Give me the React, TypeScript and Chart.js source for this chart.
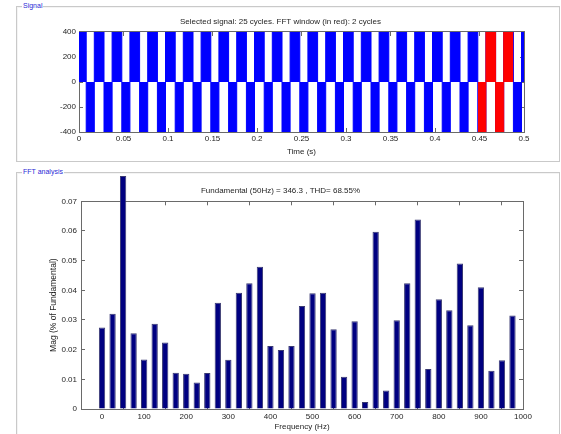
import React, { useEffect, useRef } from "react";
import { Chart, registerables } from "chart.js";

Chart.register(...registerables);

// ---------- Signal (time domain) ----------
// switching instants (s) and the level that holds from each instant to the next
const signalTimes = [
  0, 0.0081, 0.0172, 0.0281, 0.0372, 0.0481, 0.0572, 0.0681, 0.0772, 0.0881, 0.0972,
  0.1081, 0.1172, 0.1281, 0.1372, 0.1481, 0.1572, 0.1681, 0.1772, 0.1881, 0.1972,
  0.2081, 0.2172, 0.2281, 0.2372, 0.2481, 0.2572, 0.2681, 0.2772, 0.2881, 0.2972,
  0.3081, 0.3172, 0.3281, 0.3372, 0.3481, 0.3572, 0.3681, 0.3772, 0.3881, 0.3972,
  0.4081, 0.4172, 0.4281, 0.4372, 0.4481, 0.4572, 0.4681, 0.4772, 0.4881, 0.4972, 0.5,
];
const signalValues = [
  400, -400, 400, -400, 400, -400, 400, -400, 400, -400, 400,
  -400, 400, -400, 400, -400, 400, -400, 400, -400, 400,
  -400, 400, -400, 400, -400, 400, -400, 400, -400, 400,
  -400, 400, -400, 400, -400, 400, -400, 400, -400, 400,
  -400, 400, -400, 400, -400, 400, -400, 400, -400, 400, 400,
];
const fftWindowStart = 0.4481;
const fftWindowEnd = 0.4881;

const timeTicks = [0, 0.05, 0.1, 0.15, 0.2, 0.25, 0.3, 0.35, 0.4, 0.45, 0.5];
const timeTickLabels = ["0", "0.05", "0.1", "0.15", "0.2", "0.25", "0.3", "0.35", "0.4", "0.45", "0.5"];
const signalTicks = [-400, -200, 0, 200, 400];
const signalTickLabels = ["-400", "-200", "0", "200", "400"];

// ---------- FFT analysis ----------
const fftFreqs = [
  0, 25, 50, 75, 100, 125, 150, 175, 200, 225, 250, 275, 300, 325, 350, 375, 400, 425, 450, 475,
  500, 525, 550, 575, 600, 625, 650, 675, 700, 725, 750, 775, 800, 825, 850, 875, 900, 925, 950, 975,
];
const fftMags = [
  0.0275, 0.0321, 0.0785, 0.0255, 0.0167, 0.0287, 0.0224, 0.0122, 0.0119, 0.0089,
  0.0121, 0.0358, 0.0166, 0.0392, 0.0424, 0.0479, 0.0212, 0.0199, 0.0212, 0.0347,
  0.039, 0.0392, 0.0269, 0.0109, 0.0296, 0.0024, 0.0597, 0.0062, 0.0299, 0.0424,
  0.0639, 0.0135, 0.037, 0.0333, 0.049, 0.0282, 0.041, 0.0129, 0.0164, 0.0315,
];
const freqTicks = [0, 100, 200, 300, 400, 500, 600, 700, 800, 900, 1000];
const freqTickLabels = ["0", "100", "200", "300", "400", "500", "600", "700", "800", "900", "1000"];
const magTicks = [0, 0.01, 0.02, 0.03, 0.04, 0.05, 0.06, 0.07];
const magTickLabels = ["0", "0.01", "0.02", "0.03", "0.04", "0.05", "0.06", "0.07"];

const signalTitle = "Selected signal: 25 cycles. FFT window (in red): 2 cycles";
const fftTitle = "Fundamental (50Hz) = 346.3 , THD= 68.55%";

const FAMILY = "'Liberation Sans', Arial, sans-serif";
const TEXT = "#1e1e1e";
const AXIS = "#6a6a6a";
const W = 561;
const H = 434;

function setTicks(values: number[]) {
  return (axis: any) => {
    axis.ticks = values.map((v) => ({ value: v }));
  };
}
function labelFor(values: number[], labels: string[]) {
  return (v: any) => {
    const i = values.findIndex((t) => Math.abs(t - Number(v)) < 1e-9);
    return i >= 0 ? labels[i] : "";
  };
}

function axisCommon(values: number[], min: number, max: number) {
  return {
    type: "linear" as const,
    min,
    max,
    offset: false,
    afterBuildTicks: setTicks(values),
    grid: { drawOnChartArea: false, drawTicks: true, tickLength: -4, color: AXIS, lineWidth: 1 },
    border: { display: true, color: AXIS, width: 1 },
  };
}

const font = { family: FAMILY, size: 8, weight: "normal" as const };
const yTitleFont = { family: FAMILY, size: 8.5, weight: "normal" as const };

function SignalChart() {
  const ref = useRef<HTMLCanvasElement>(null);
  useEffect(() => {
    const pts = signalTimes.map((t, i) => ({ x: t, y: signalValues[i] }));
    const red: { x: number; y: number }[] = [];
    for (let i = 0; i < signalTimes.length; i++) {
      if (signalTimes[i] >= fftWindowStart - 1e-9 && signalTimes[i] < fftWindowEnd - 1e-9) red.push(pts[i]);
    }
    red.push({ x: fftWindowEnd, y: red[red.length - 1].y });
    const chart = new Chart(ref.current!, {
      type: "line",
      data: {
        datasets: [
          {
            data: red,
            borderColor: "#ff0000",
            backgroundColor: "#ff0000",
            borderWidth: 1,
            pointRadius: 0,
            stepped: true,
            fill: "origin",
            order: 0,
          },
          {
            data: pts,
            borderColor: "#0000ff",
            backgroundColor: "#0000ff",
            borderWidth: 1,
            pointRadius: 0,
            stepped: true,
            fill: "origin",
            order: 1,
          },
        ],
      },
      options: {
        animation: false,
        responsive: false,
        events: [],
        layout: { padding: { left: 0, right: 0, top: 0, bottom: H - 160 } },
        plugins: {
          legend: { display: false },
          tooltip: { enabled: false },
          title: { display: true, text: signalTitle, font, color: TEXT, padding: { top: 17.2, bottom: 0 } },
        },
        scales: {
          x: {
            ...axisCommon(timeTicks, 0, 0.5),
            position: "bottom",
            ticks: { callback: labelFor(timeTicks, timeTickLabels), font, color: TEXT, padding: 6.2, maxRotation: 0, autoSkip: false },
            title: { display: true, text: "Time (s)", font, color: TEXT, padding: { top: 0, bottom: 3.2 } },
            afterFit: (s: any) => { s.height = 28; },
          },
          x2: {
            ...axisCommon(timeTicks, 0, 0.5),
            axis: "x",
            position: "top",
            ticks: { display: false },
            afterFit: (s: any) => { s.height = 5.2; },
          },
          y: {
            ...axisCommon(signalTicks, -400, 400),
            position: "left",
            ticks: { callback: labelFor(signalTicks, signalTickLabels), font, color: TEXT, padding: 7, autoSkip: false },
            afterFit: (s: any) => { s.width = 79; },
          },
          y2: {
            ...axisCommon(signalTicks, -400, 400),
            axis: "y",
            position: "right",
            ticks: { display: false },
            afterFit: (s: any) => { s.width = W - 524; },
          },
        },
      } as any,
    });
    return () => chart.destroy();
  }, []);
  return <canvas ref={ref} width={W} height={H} style={{ position: "absolute", left: 0, top: 0, width: W, height: H }} />;
}

function FftChart() {
  const ref = useRef<HTMLCanvasElement>(null);
  useEffect(() => {
    const chart = new Chart(ref.current!, {
      type: "bar",
      data: {
        datasets: [
          {
            data: fftFreqs.map((f, i) => ({ x: f, y: fftMags[i] })),
            backgroundColor: "#000080",
            borderColor: "#3a3a72",
            borderWidth: 1,
            barPercentage: 0.6,
            categoryPercentage: 1,
            clip: false,
          },
        ],
      },
      options: {
        animation: false,
        responsive: false,
        events: [],
        layout: { padding: { left: 0, right: 0, top: 165, bottom: 0 } },
        plugins: {
          legend: { display: false },
          tooltip: { enabled: false },
          title: { display: true, text: fftTitle, font, color: TEXT, padding: { top: 20.9, bottom: 0 } },
        },
        scales: {
          x: {
            ...axisCommon(freqTicks, -50, 1000),
            position: "bottom",
            ticks: { callback: labelFor(freqTicks, freqTickLabels), font, color: TEXT, padding: 6.5, maxRotation: 0, autoSkip: false },
            title: { display: true, text: "Frequency (Hz)", font, color: TEXT, padding: { top: 0, bottom: 2.2 } },
            afterFit: (s: any) => { s.height = H - 409; },
          },
          x2: {
            ...axisCommon(freqTicks, -50, 1000),
            axis: "x",
            position: "top",
            ticks: { display: false },
            afterFit: (s: any) => { s.height = 5.8; },
          },
          y: {
            ...axisCommon(magTicks, 0, 0.07),
            position: "left",
            ticks: { callback: labelFor(magTicks, magTickLabels), font, color: TEXT, padding: 8, autoSkip: false },
            title: { display: true, text: "Mag (% of Fundamental)", font: yTitleFont, color: TEXT, padding: { top: 48.2, bottom: 0 } },
            afterFit: (s: any) => { s.width = 81; },
          },
          y2: {
            ...axisCommon(magTicks, 0, 0.07),
            axis: "y",
            position: "right",
            ticks: { display: false },
            afterFit: (s: any) => { s.width = W - 523; },
          },
        },
      } as any,
    });
    return () => chart.destroy();
  }, []);
  return <canvas ref={ref} width={W} height={H} style={{ position: "absolute", left: 0, top: 0, width: W, height: H }} />;
}

function GroupBox(props: { left: number; top: number; width: number; height: number; label: string }) {
  const { left, top, width, height, label } = props;
  return (
    <div
      style={{
        position: "absolute",
        left,
        top,
        width,
        height,
        border: "1px solid #c9c9c9",
        boxShadow: "inset 1px 1px 0 #f4f4f4",
        boxSizing: "border-box",
      }}
    >
      <span
        style={{
          position: "absolute",
          left: 5,
          top: -6,
          background: "#ffffff",
          color: "#2a2ad6",
          font: "7px 'Liberation Sans', Arial, sans-serif",
          lineHeight: "10px",
          padding: "0 1px",
          whiteSpace: "nowrap",
        }}
      >
        {label}
      </span>
    </div>
  );
}

export default function App() {
  return (
    <div style={{ position: "absolute", left: 0, top: 0, width: W, height: H, background: "#ffffff", overflow: "hidden" }}>
      <GroupBox left={16} top={6} width={544} height={156} label="Signal" />
      <GroupBox left={16} top={172} width={544} height={280} label="FFT analysis" />
      <FftChart />
      <SignalChart />
    </div>
  );
}
